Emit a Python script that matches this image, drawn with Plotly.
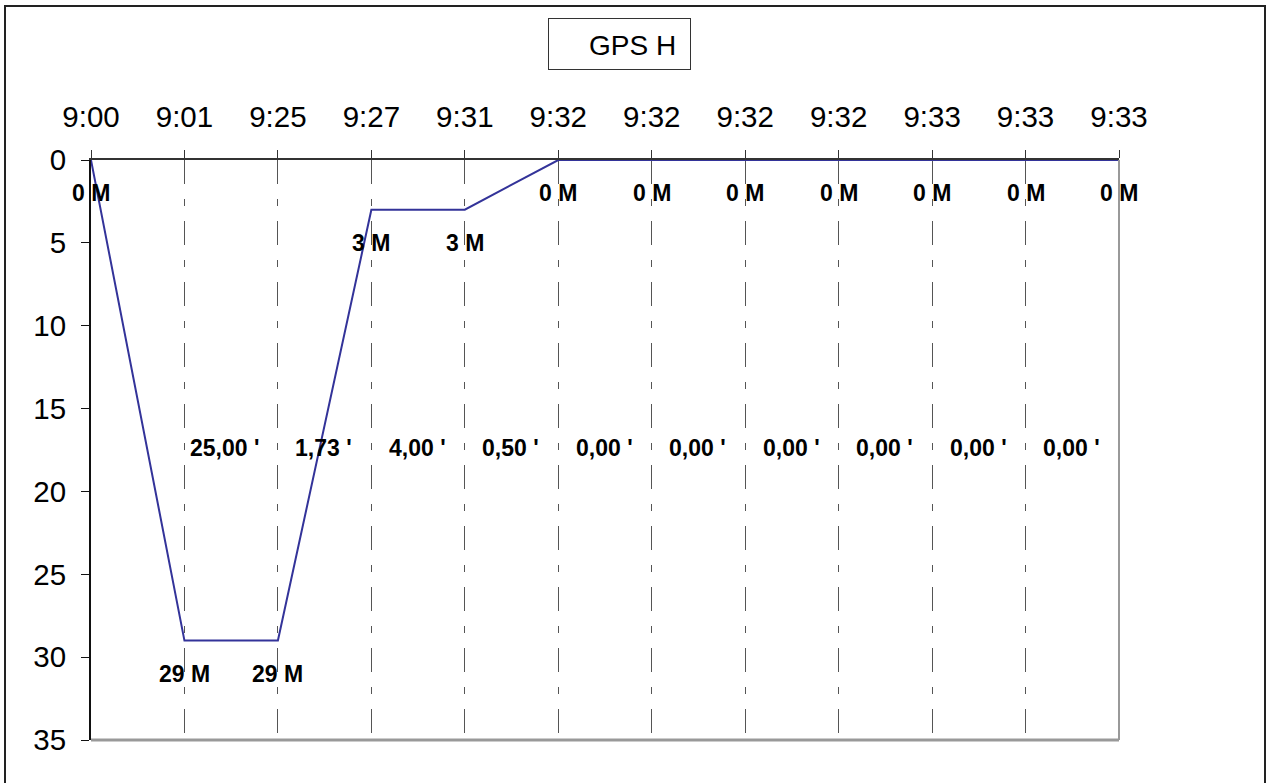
import plotly.graph_objects as go

# ---- data ----
times = ["9:00", "9:01", "9:25", "9:27", "9:31", "9:32", "9:32", "9:32", "9:32", "9:33", "9:33", "9:33"]
depth_m = [0, 29, 29, 3, 3, 0, 0, 0, 0, 0, 0, 0]
interval_min = [25.00, 1.73, 4.00, 0.50, 0.00, 0.00, 0.00, 0.00, 0.00, 0.00]
interval_label_y = 17.4
y_ticks = [0, 5, 10, 15, 20, 25, 30, 35]
series_name = "GPS H"

idx = list(range(len(times)))

fig = go.Figure()

fig.add_trace(go.Scatter(
    x=idx, y=depth_m, mode="lines",
    line=dict(color="#333399", width=2),
    showlegend=False, hoverinfo="skip",
))
# legend entry (no visible symbol, as in the reference)
fig.add_trace(go.Scatter(
    x=[None], y=[None], mode="lines",
    line=dict(color="rgba(0,0,0,0)", width=2),
    name=series_name, showlegend=True,
))

label_font = dict(family="Liberation Sans, Arial", size=23, color="black", weight="bold")

annotations = []
for i, d in zip(idx, depth_m):
    annotations.append(dict(
        x=i, y=d, xref="x", yref="y", text=f"<b>{d} M</b>", showarrow=False,
        xanchor="center", yanchor="middle", yshift=-33, font=label_font,
    ))
for k, v in enumerate(interval_min):
    txt = f"{v:.2f}".replace(".", ",") + " '"
    annotations.append(dict(
        x=k + 2, y=interval_label_y, xref="x", yref="y", text=f"<b>{txt}</b>",
        showarrow=False, xanchor="right", yanchor="middle", xshift=-17, font=label_font,
    ))

shapes = [
    # right and bottom plot-area border (gray)
    dict(type="line", xref="paper", yref="paper", x0=1, x1=1, y0=0, y1=1,
         line=dict(color="#999999", width=2)),
    dict(type="line", xref="paper", yref="paper", x0=0, x1=1, y0=0, y1=0,
         line=dict(color="#999999", width=3)),
    # outer chart frame
    dict(type="rect", xref="paper", yref="paper",
         x0=(5 - 91) / 1028, x1=(1265 - 91) / 1028,
         y0=(740 - 800) / 580, y1=(740 - 6) / 580,
         line=dict(color="#222222", width=2), layer="below"),
]

fig.update_layout(
    width=1267, height=783,
    margin=dict(l=91, r=148, t=160, b=43),
    paper_bgcolor="white", plot_bgcolor="white",
    font=dict(family="Liberation Sans, Arial", size=29.5, color="black"),
    legend=dict(
        orientation="h",
        x=(548 - 91) / 1028, xanchor="left",
        y=(740 - 18) / 580, yanchor="top",
        bordercolor="#333333", borderwidth=1, bgcolor="white",
        font=dict(size=28), entrywidth=96, entrywidthmode="pixels",
    ),
    annotations=annotations,
    shapes=shapes,
    xaxis=dict(
        range=[0, 11], side="top", tickmode="array", tickvals=idx, ticktext=times,
        showline=True, linecolor="#333333", linewidth=2,
        ticks="outside", ticklen=8, tickcolor="#333333", tickwidth=1,
        showgrid=True, gridcolor="#555555", gridwidth=1, griddash="24px,15px,7px,15px",
        zeroline=False, tickfont=dict(size=29.5), ticklabelstandoff=11,
    ),
    yaxis=dict(
        range=[35, 0], tickmode="array", tickvals=y_ticks,
        showline=True, linecolor="#111111", linewidth=2,
        ticks="outside", ticklen=8, tickcolor="#111111", tickwidth=1,
        showgrid=False, zeroline=False, tickfont=dict(size=29.5), ticklabelstandoff=9,
    ),
)

fig.write_html("out.html", config={"displayModeBar": False},
               post_script="document.body.style.margin='0px';")
